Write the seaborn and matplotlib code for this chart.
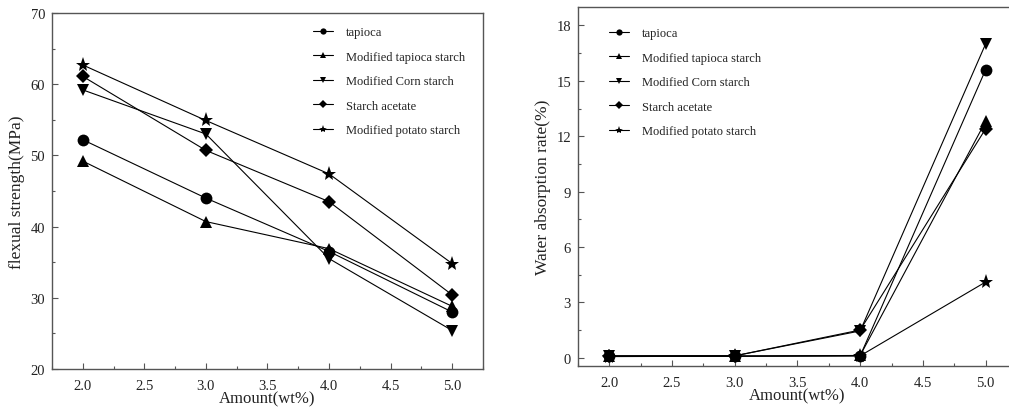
import matplotlib
matplotlib.use('Agg')
import matplotlib.pyplot as plt
from matplotlib.lines import Line2D
from matplotlib.ticker import MultipleLocator
import seaborn as sns

sns.set_style('ticks')
plt.rcParams['font.family'] = ['Liberation Serif', 'DejaVu Serif']

# dados
amount = [2.0, 3.0, 4.0, 5.0]
series = ['tapioca', 'Modified tapioca starch', 'Modified Corn starch',
          'Starch acetate', 'Modified potato starch']
markers = ['o', '^', 'v', 'D', '*']
msizes = [8.5, 9, 9, 7.5, 11]

flexual = [
    [52.2, 44.0, 36.5, 28.0],
    [49.2, 40.7, 36.9, 28.8],
    [59.2, 53.0, 35.5, 25.4],
    [61.1, 50.7, 43.5, 30.4],
    [62.7, 54.9, 47.4, 34.8],
]
water = [
    [0.07, 0.08, 0.10, 15.6],
    [0.08, 0.09, 0.12, 12.8],
    [0.10, 0.10, 1.45, 17.0],
    [0.09, 0.10, 1.50, 12.4],
    [0.06, 0.08, 0.10, 4.1],
]

fig = plt.figure(figsize=(10.09, 4.10), dpi=100)
ax1 = fig.add_axes([0.0515, 0.0976, 0.4272, 0.8683])
ax2 = fig.add_axes([0.5728, 0.1049, 0.4351, 0.8756])

spine_col = '#555555'
txt_col = '#222222'


def desenha(ax, dados, ylabel, ylim, ymajor, yminor):
    for nome, mk, ms, vals in zip(series, markers, msizes, dados):
        sns.lineplot(x=amount, y=vals, ax=ax, color='black', lw=0.8,
                     marker=mk, markersize=ms, markeredgewidth=0,
                     legend=False)
    ax.set_xlim(1.75, 5.25)
    ax.set_ylim(*ylim)
    ax.xaxis.set_major_locator(MultipleLocator(0.5))
    ax.xaxis.set_minor_locator(MultipleLocator(0.25))
    ax.yaxis.set_major_locator(MultipleLocator(ymajor))
    ax.yaxis.set_minor_locator(MultipleLocator(yminor))
    ax.xaxis.set_major_formatter('{x:.1f}')
    ax.tick_params(which='major', direction='in', length=4, width=0.8,
                   color=spine_col, labelsize=10.5, labelcolor=txt_col)
    ax.tick_params(which='minor', direction='in', length=2.5, width=0.8,
                   color=spine_col)
    ax.tick_params(axis='x', pad=7)
    ax.tick_params(axis='y', pad=5)
    for s in ax.spines.values():
        s.set_color(spine_col)
        s.set_linewidth(1.0)
    ax.set_xlabel('Amount(wt%)', fontsize=12, color=txt_col, labelpad=-1)
    ax.set_ylabel(ylabel, fontsize=12.5, color=txt_col)

    handles = [Line2D([], [], color='black', lw=0.8, marker=mk,
                      markersize=4.5 if mk != '*' else 6, markeredgewidth=0)
               for mk in markers]
    return handles


h1 = desenha(ax1, flexual, 'flexual strength(MPa)', (20, 70), 10, 5)
h2 = desenha(ax2, water, 'Water absorption rate(%)', (-0.45, 19), 3, 1.5)

ax1.legend(h1, series, loc='upper left', bbox_to_anchor=(0.58, 0.995),
           frameon=False, fontsize=9, labelspacing=1.0, handlelength=1.6,
           handletextpad=1.0, labelcolor=txt_col)
ax2.legend(h2, series, loc='upper left', bbox_to_anchor=(0.046, 0.975),
           frameon=False, fontsize=9, labelspacing=1.0, handlelength=1.6,
           handletextpad=1.0, labelcolor=txt_col)

fig.savefig('out.png', dpi=100)
